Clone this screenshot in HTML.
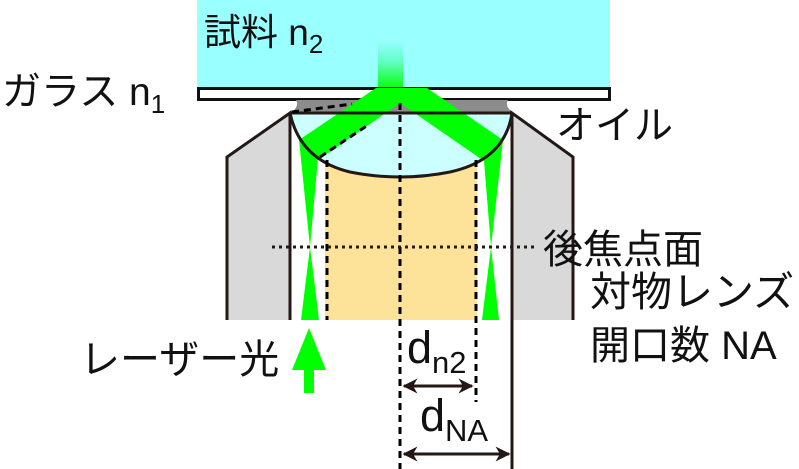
<!DOCTYPE html>
<html><head><meta charset="utf-8"><style>
html,body{margin:0;padding:0;background:#fff;}
svg{display:block}
text{font-family:"Liberation Sans","Noto Sans CJK JP",sans-serif;fill:#111;}
</style></head><body>
<svg width="799" height="469" viewBox="0 0 799 469" xmlns="http://www.w3.org/2000/svg">
<defs>
<linearGradient id="g" x1="0" y1="0" x2="0" y2="1">
<stop offset="0" stop-color="#9ff" /><stop offset="0.4" stop-color="#6fc" /><stop offset="1" stop-color="#0f0"/>
</linearGradient>
<marker id="ah" viewBox="0 0 10 10" refX="9" refY="5" markerWidth="5" markerHeight="5" orient="auto-start-reverse"><path d="M0,0 L10,5 L0,10 L3,5z" fill="#231815"/></marker>
</defs>
<rect x="197" y="0" width="413" height="88" fill="#9ff"/>
<rect x="378" y="40" width="25" height="50" fill="url(#g)"/>
<rect x="198.5" y="88.5" width="411" height="11" fill="#fff" stroke="#111" stroke-width="3"/>
<path d="M296,100 L508,100 Q504,107 514,113 L290,113 Q300,107 296,100z" fill="#8c8c8c"/>
<path d="M290,113 L227,157 L227,320 L290,320z" fill="#d9d9d9"/>
<path d="M512,113 L573,157 L573,320 L512,320z" fill="#d9d9d9"/>
<path d="M325,160 L477,160 L477,320 L325,320z" fill="#fde29a"/>
<path d="M290,113 L512,113 Q505,160 450,172 Q400,182 350,172 Q300,160 290,113z" fill="#cff"/>
<path d="M376,88 L405,88 L400,103 L318,160 L299,140z" fill="#0f0"/>
<path d="M398,88 L427,88 L503,140 L484,161 L400,103z" fill="#0f0"/>
<path d="M299,140 L318,158 L310,247z M310,247 L319,320 L301,320z" fill="#0f0"/>
<path d="M503,140 L484,161 L491,247z M491,247 L499,320 L482,320z" fill="#0f0"/>
<path d="M290,113 Q300,160 350,172 Q400,182 450,172 Q505,160 512,113" fill="none" stroke="#231815" stroke-width="3"/>
<path d="M290,113 L512,113" stroke="#231815" stroke-width="3"/>
<path d="M290,320 L290,113 L227,157 L227,320" fill="none" stroke="#231815" stroke-width="3"/>
<path d="M512,469 L512,113 L573,157 L573,320" fill="none" stroke="#231815" stroke-width="3"/>
<g stroke="#000" stroke-width="3" fill="none" stroke-dasharray="7,5">
<path d="M400,103 L400,469"/>
<path d="M327,160 L327,320"/>
<path d="M476,160 L476,402"/>
<path d="M292,112 L352,104"/>
<path d="M320,157 L368,125"/>
</g>
<path d="M272,247 L535,247" stroke="#231815" stroke-width="3" stroke-dasharray="3,4"/>
<path d="M309,328 L326,370 L314,370 L314,393 L304,393 L304,370 L292,370z" fill="#0f0"/>
<path d="M404,386 L472,386" stroke="#231815" stroke-width="3" marker-start="url(#ah)" marker-end="url(#ah)"/>
<path d="M404,454 L509,454" stroke="#231815" stroke-width="3" marker-start="url(#ah)" marker-end="url(#ah)"/>
<text x="204" y="45" font-size="37">試料 n<tspan font-size="26" dy="8">2</tspan></text>
<text x="2" y="105" font-size="39">ガラス n<tspan font-size="26" dy="8">1</tspan></text>
<text x="556" y="139" font-size="39">オイル</text>
<text x="543" y="263" font-size="40">後焦点面</text>
<text x="590" y="306" font-size="41">対物レンズ</text>
<text x="590" y="359" font-size="40">開口数 NA</text>
<text x="80" y="373" font-size="40">レーザー光</text>
<text x="407" y="363" font-size="45">d<tspan font-size="31" dy="10">n2</tspan></text>
<text x="420" y="431" font-size="45">d<tspan font-size="31" dy="10">NA</tspan></text>
</svg>
</body></html>
